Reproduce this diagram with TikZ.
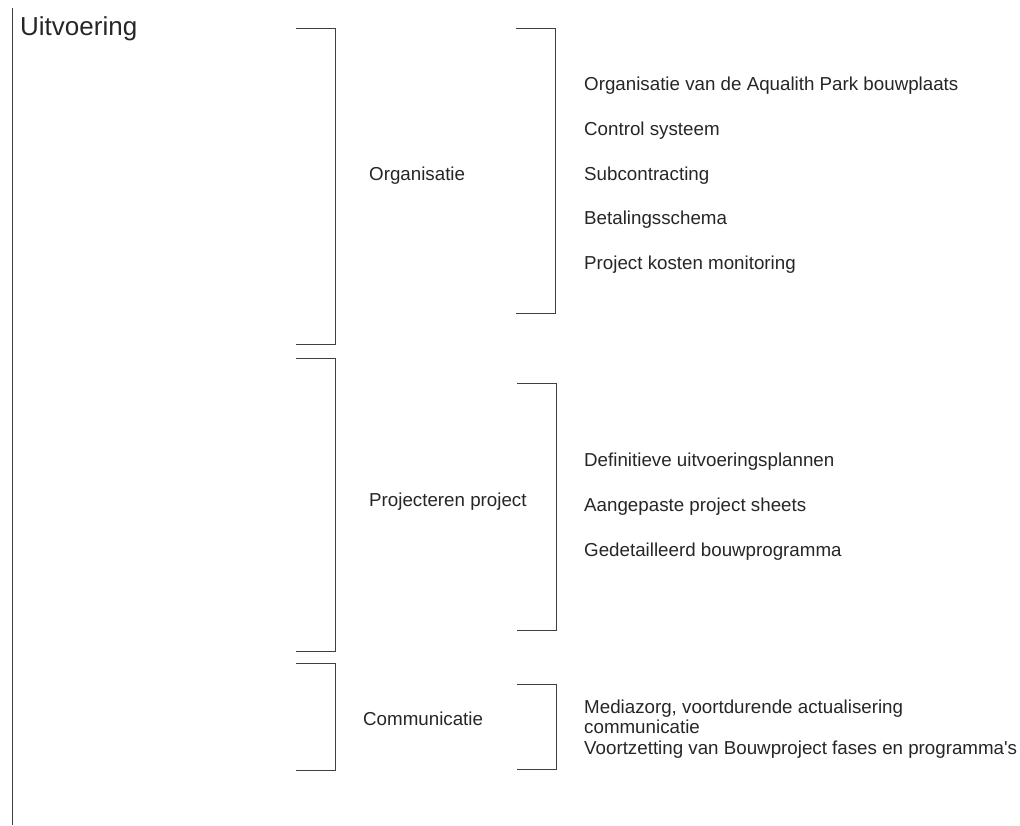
\documentclass[tikz,border=0pt]{standalone}
\usepackage{fontspec}
\setmainfont{Liberation Sans}
\definecolor{txt}{HTML}{262626}
\definecolor{ln}{HTML}{404040}
\begin{document}
\begin{tikzpicture}[x=1pt,y=-1pt,
  lbl/.style={anchor=base west,inner sep=0pt,text=txt,font=\fontsize{18.75}{21}\selectfont},
  ttl/.style={anchor=base west,inner sep=0pt,text=txt,font=\fontsize{26}{30}\selectfont},
  brk/.style={draw=ln,line width=1pt}]
\useasboundingbox (0,0) rectangle (1020,825);
% left line
\coordinate (lt) at (12,8);
\coordinate (lb) at (12,825);
\draw[brk] (lt) -- (lb);
\node[ttl] (title) at (20,35) {Uitvoering};
% first column brackets
\draw[brk] (296,28) -- (335,28) -- (335,344) -- (296,344);
\draw[brk] (296,358) -- (335,358) -- (335,651) -- (296,651);
\draw[brk] (296,663) -- (335,663) -- (335,770) -- (296,770);
% second column brackets
\draw[brk] (516,28) -- (555,28) -- (555,313) -- (516,313);
\draw[brk] (517,383) -- (556,383) -- (556,630) -- (517,630);
\draw[brk] (517,684) -- (556,684) -- (556,769) -- (517,769);
% category labels
\node[lbl] (org) at (369,180) {Organisatie};
\node[lbl] (proj) at (369,506) {Projecteren project};
\node[lbl] (comm) at (363,725) {Communicatie};
% items
\node[lbl] (o1) at (584,90.5) {Organisatie van de Aqualith Park bouwplaats};
\node[lbl] (o2) at (584,135.3) {Control systeem};
\node[lbl] (o3) at (584,180) {Subcontracting};
\node[lbl] (o4) at (584,224.8) {Betalingsschema};
\node[lbl] (o5) at (584,269.5) {Project kosten monitoring};
\node[lbl] (p1) at (584,466) {Definitieve uitvoeringsplannen};
\node[lbl] (p2) at (584,511) {Aangepaste project sheets};
\node[lbl] (p3) at (584,556) {Gedetailleerd bouwprogramma};
\node[lbl] (c1) at (584,713) {Mediazorg, voortdurende actualisering};
\node[lbl] (c2) at (584,733.5) {communicatie};
\node[lbl] (c3) at (584,754) {Voortzetting van Bouwproject fases en programma\textquotesingle s};
\end{tikzpicture}
\end{document}
